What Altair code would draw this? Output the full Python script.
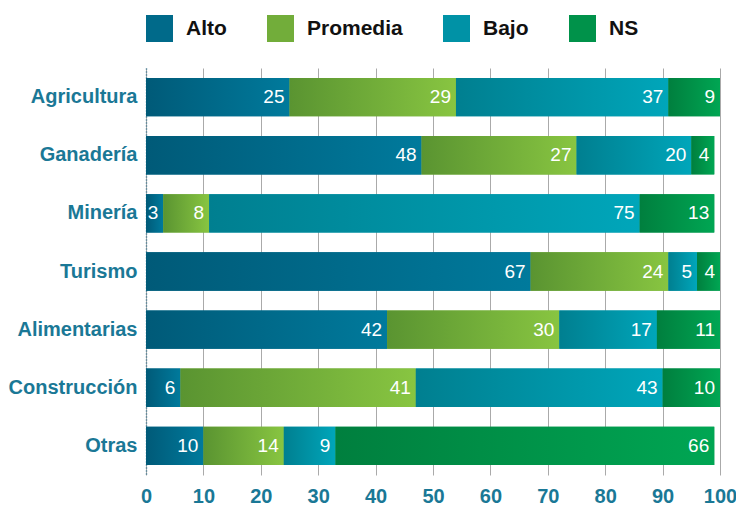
import altair as alt
import pandas as pd

categories = ["Agricultura", "Ganadería", "Minería", "Turismo", "Alimentarias", "Construcción", "Otras"]
levels = ["Alto", "Promedia", "Bajo", "NS"]
alto = [25, 48, 3, 67, 42, 6, 10]
promedia = [29, 27, 8, 24, 30, 41, 14]
bajo = [37, 20, 75, 5, 17, 43, 9]
ns = [9, 4, 13, 4, 11, 10, 66]
x_ticks = [0, 10, 20, 30, 40, 50, 60, 70, 80, 90, 100]

solid = ["#006a8a", "#72ad3a", "#0092a6", "#00924a"]
grad = {
    "Alto": ("#005a78", "#007a9c"),
    "Promedia": ("#5a9431", "#88c541"),
    "Bajo": ("#007f90", "#00a6ba"),
    "NS": ("#007f3e", "#00a653"),
}

rows = []
series = {"Alto": alto, "Promedia": promedia, "Bajo": bajo, "NS": ns}
for i, c in enumerate(categories):
    start = 0
    for j, lv in enumerate(levels):
        v = series[lv][i]
        rows.append({"cat": c, "level": lv, "order": j, "value": v, "start": start, "end": start + v})
        start += v
df = pd.DataFrame(rows)

BOLD = "'Liberation Sans', Arial, sans-serif"
TEAL = "#1a7896"

yenc = alt.Y("cat:N", sort=categories, title=None,
             scale=alt.Scale(paddingInner=0.34, paddingOuter=0.17),
             axis=alt.Axis(labelFont=BOLD, labelFontSize=20, labelFontWeight="bold",
                           labelColor=TEAL, labelPadding=9, ticks=False,
                           domainColor="#2a6f8c", domainDash=[1, 2], domainWidth=1.5, grid=False))
xenc = alt.X("start:Q", title=None, scale=alt.Scale(domain=[0, 100], nice=False),
             axis=alt.Axis(values=x_ticks, labelFont=BOLD, labelFontSize=20, labelFontWeight="bold",
                           labelColor=TEAL, labelPadding=11, labelFlush=False, ticks=False, domain=False,
                           grid=True, gridColor="#aaaaaa", gridWidth=1))

base = alt.Chart(df)

legend_layer = base.mark_bar().encode(
    x=xenc, x2="end:Q", y=yenc,
    color=alt.Color("level:N", scale=alt.Scale(domain=levels, range=solid),
                    legend=alt.Legend(title=None, orient="top", direction="horizontal",
                                      symbolType="square", symbolSize=729, symbolStrokeWidth=0,
                                      labelFont=BOLD, labelFontSize=21, labelFontWeight="bold",
                                      labelColor="#111111", labelOffset=13, columnPadding=40,
                                      offset=26)),
)

layers = [legend_layer]
for lv in levels:
    c0, c1 = grad[lv]
    g = alt.Gradient(gradient="linear", x1=0, x2=1, y1=0, y2=0,
                     stops=[alt.GradientStop(color=c0, offset=0), alt.GradientStop(color=c1, offset=1)])
    layers.append(
        base.transform_filter(alt.datum.level == lv).mark_bar(color=g).encode(
            x="start:Q", x2="end:Q", y=alt.Y("cat:N", sort=categories)
        )
    )

text = base.mark_text(align="right", baseline="middle", dx=-5, color="white",
                      font="'Liberation Sans', Arial, sans-serif", fontSize=19).encode(
    x="end:Q", y=alt.Y("cat:N", sort=categories), text="value:Q"
)
layers.append(text)

chart = alt.layer(*layers).properties(
    width=574, height=407,
    autosize=alt.AutoSizeParams(type="none"),
    padding={"left": 138, "top": 60, "right": 16, "bottom": 35},
).configure_view(stroke=None).configure_legend(padding=0)

chart.save("out.html", embed_options={"renderer": "svg", "actions": False})
